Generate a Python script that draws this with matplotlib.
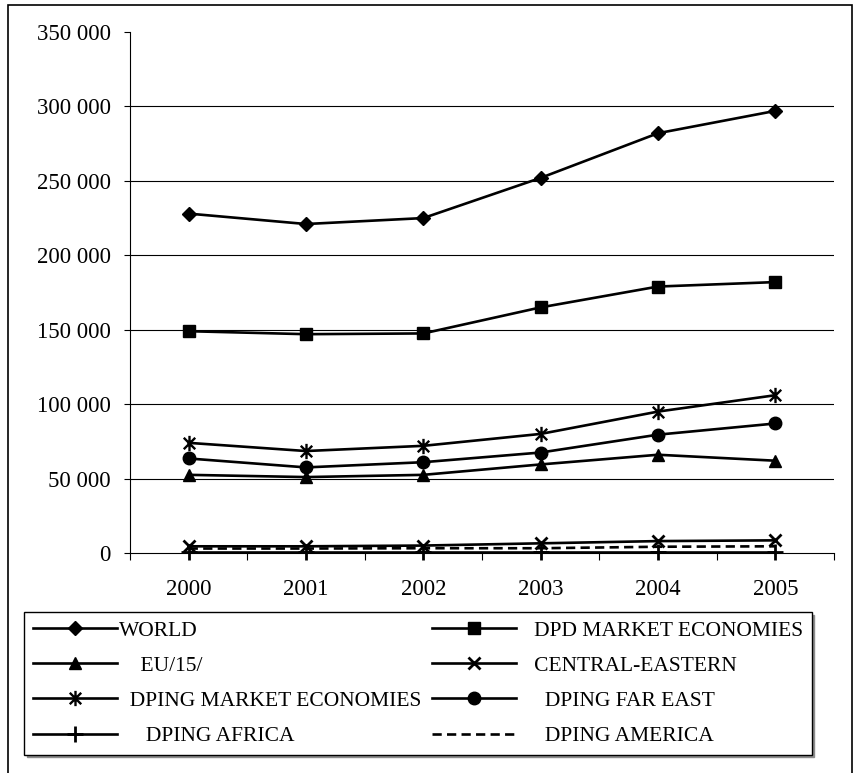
import matplotlib.pyplot as plt
from matplotlib.patches import Rectangle
from matplotlib.path import Path
from matplotlib.ticker import FuncFormatter, FixedLocator

# values
years = ['2000', '2001', '2002', '2003', '2004', '2005']
world = [228000, 221000, 225000, 252000, 282000, 297000]
dpd_market = [149000, 147000, 147500, 165000, 179000, 182000]
eu15 = [52500, 51000, 52500, 59500, 66000, 62000]
central_eastern = [4500, 4500, 5000, 6500, 8000, 8500]
dping_market = [74000, 68500, 72000, 80000, 95000, 106000]
dping_far_east = [63500, 57500, 61000, 67500, 79500, 87000]
dping_africa = [1000, 1000, 1000, 1000, 1000, 1000]
dping_america = [3000, 3000, 3200, 3200, 4200, 4500]

plt.rcParams['font.family'] = ['Liberation Serif', 'DejaVu Serif']
plt.rcParams['font.size'] = 15.5

# Excel style "star": an x with a vertical bar
star = Path([(0, -1), (0, 1), (-0.75, -0.75), (0.75, 0.75), (-0.75, 0.75), (0.75, -0.75)],
            [Path.MOVETO, Path.LINETO, Path.MOVETO, Path.LINETO, Path.MOVETO, Path.LINETO])

fig = plt.figure(figsize=(8.54, 7.73), dpi=100)
ax = fig.add_axes([130 / 854, 1 - 553 / 773, 704 / 854, 521 / 773])

x = list(range(len(years)))
lw = 1.9
series = [
    (world, 'WORLD', dict(marker='D', markersize=7.5)),
    (dpd_market, '   DPD MARKET ECONOMIES', dict(marker='s', markersize=8.5)),
    (eu15, '    EU/15/', dict(marker='^', markersize=9)),
    (central_eastern, '   CENTRAL-EASTERN', dict(marker='x', markersize=8.5, markeredgewidth=2)),
    (dping_market, '  DPING MARKET ECONOMIES', dict(marker=star, markersize=11, markeredgewidth=1.7)),
    (dping_far_east, '     DPING FAR EAST', dict(marker='o', markersize=9)),
    (dping_africa, '     DPING AFRICA', dict(marker='+', markersize=11, markeredgewidth=2)),
    (dping_america, '     DPING AMERICA', dict(linestyle=(0, (3.5, 2)))),
]

handles = []
for vals, label, style in series:
    h, = ax.plot(x, vals, color='black', lw=lw, label=label, clip_on=False, **style)
    handles.append(h)

ax.set_xlim(-0.5, len(years) - 0.5)
ax.set_ylim(0, 350000)
ax.yaxis.set_major_locator(FixedLocator(range(0, 350001, 50000)))
ax.yaxis.set_major_formatter(FuncFormatter(lambda v, p: f'{v:,.0f}'.replace(',', ' ')))
for gy in range(50000, 300001, 50000):
    ax.axhline(gy, color='black', lw=0.8, zorder=0)

ax.xaxis.set_major_locator(FixedLocator([i - 0.5 for i in range(len(years) + 1)]))
ax.xaxis.set_major_formatter(plt.NullFormatter())
ax.set_xticks(x, years, minor=True)
ax.tick_params(axis='x', which='major', direction='out', length=5, width=0.8)
ax.tick_params(axis='x', which='minor', length=0, pad=19, labelsize=16.5)
ax.tick_params(axis='y', direction='out', length=4, width=0.8, pad=10, labelsize=16.5)

for side in ['top', 'right']:
    ax.spines[side].set_visible(False)
ax.spines['left'].set_linewidth(0.8)
ax.spines['bottom'].set_linewidth(0.8)

# order: column 1 then column 2 (matplotlib fills columns first)
order = [0, 2, 4, 6, 1, 3, 5, 7]
leg = fig.legend([handles[i] for i in order], [series[i][1] for i in order],
                 ncol=2, loc='upper left', bbox_to_anchor=(24 / 854, 1 - 612 / 773),
                 frameon=True, fancybox=False, edgecolor='black', borderpad=0.4,
                 handlelength=3.9, handletextpad=0.1, columnspacing=0.5,
                 labelspacing=0.7, borderaxespad=0,
                 shadow={'color': '0.55', 'alpha': 1})
leg.get_frame().set_linewidth(1.0)

# frame round the whole chart
fig.patches.append(Rectangle((8 / 854, -0.02), 844.5 / 854, 1.02 - 5 / 773,
                             transform=fig.transFigure, fill=False,
                             edgecolor='black', lw=1.2))

fig.savefig('out.png', dpi=100)
